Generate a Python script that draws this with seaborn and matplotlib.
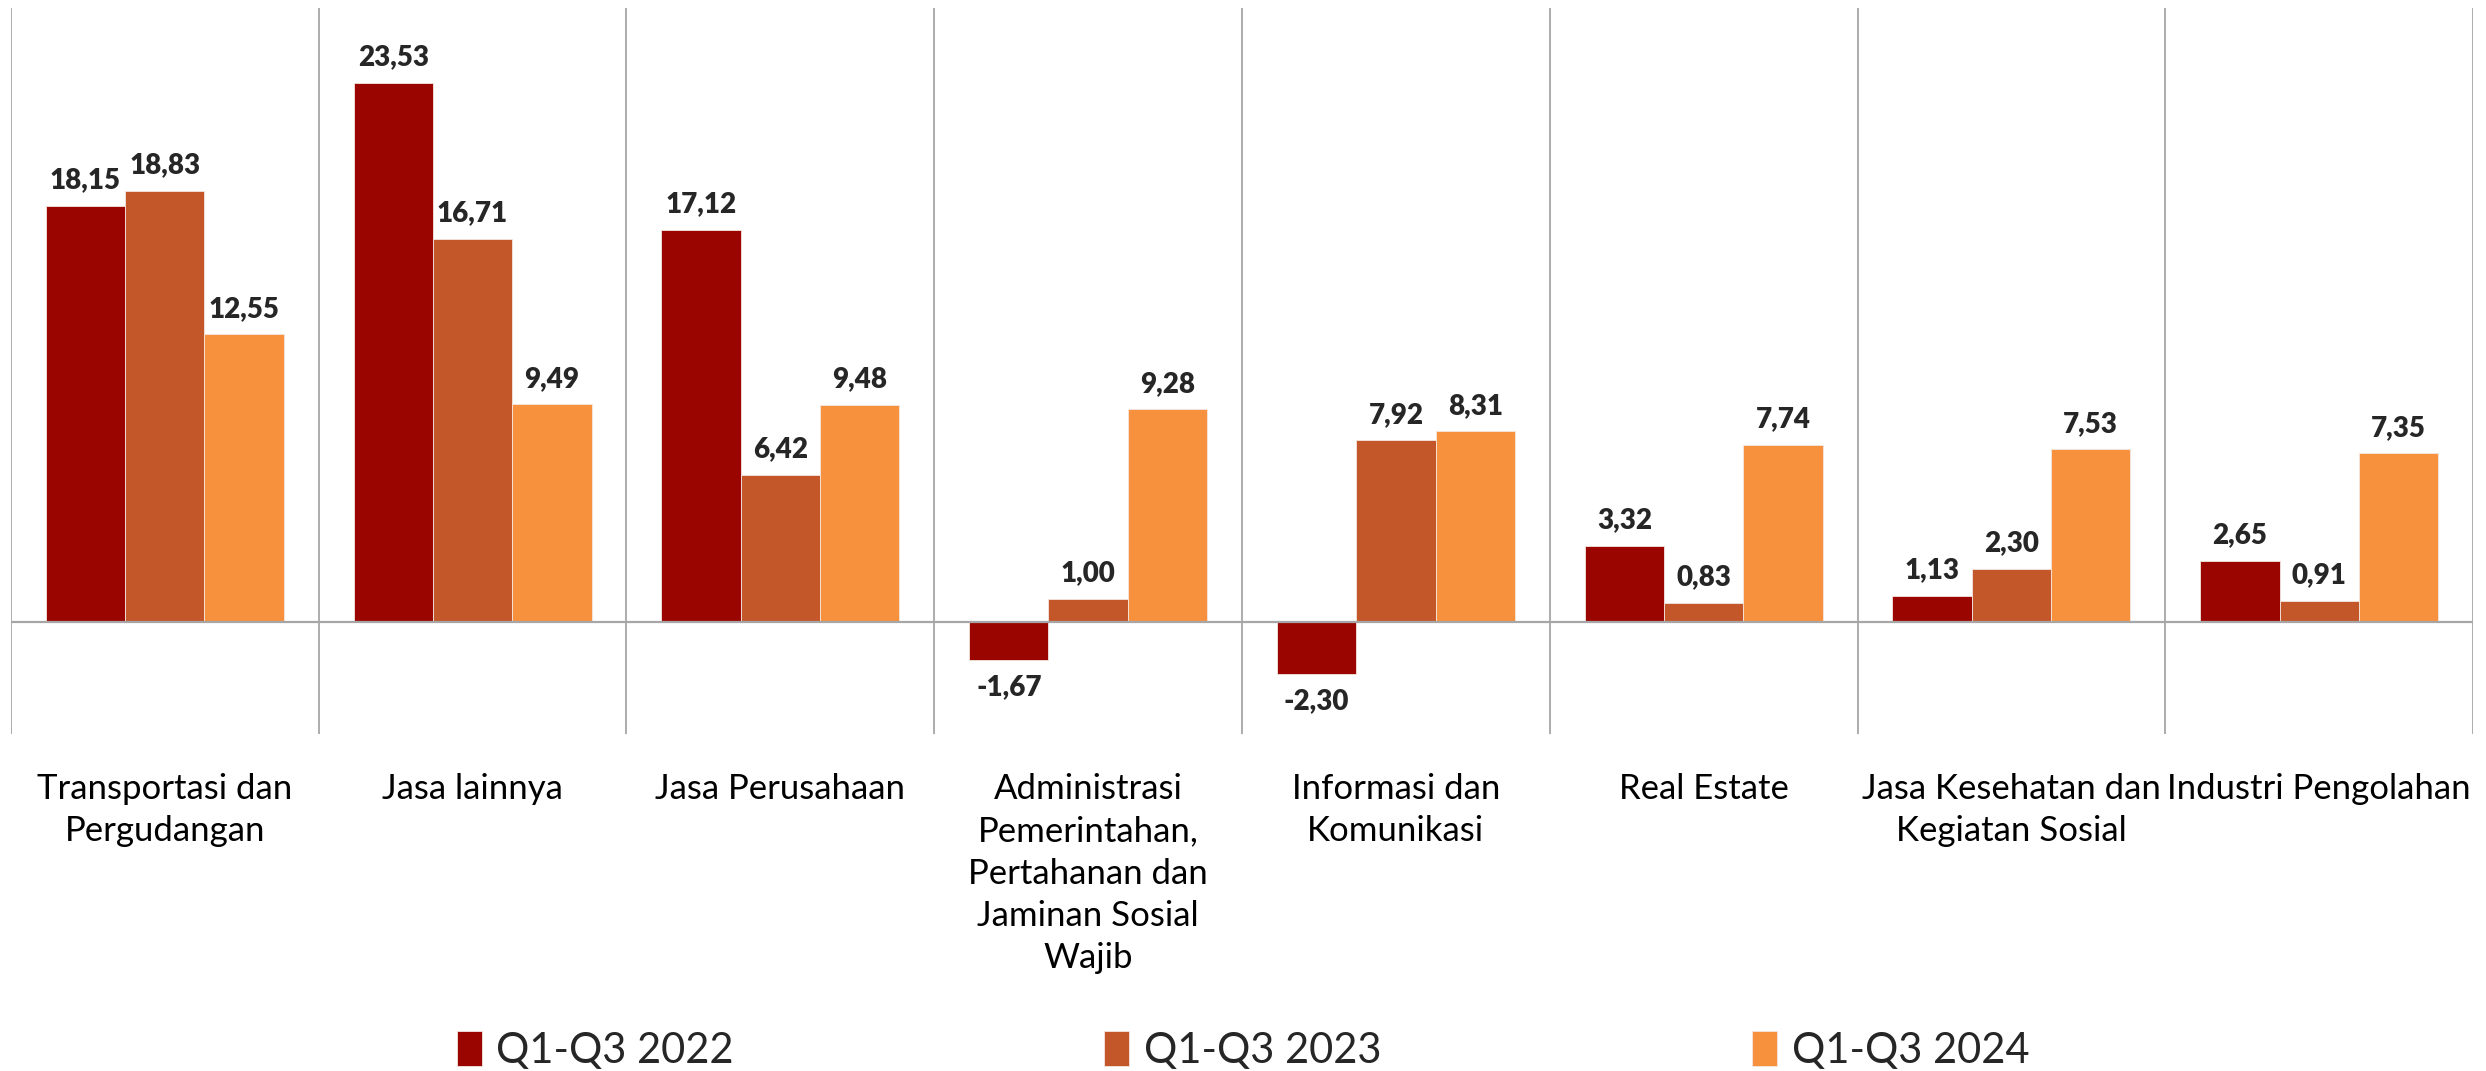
import numpy as np
import pandas as pd
import matplotlib
matplotlib.use("Agg")
import matplotlib.pyplot as plt
import seaborn as sns

# Chart data
categories = [
    "Transportasi dan\nPergudangan",
    "Jasa lainnya",
    "Jasa Perusahaan",
    "Administrasi\nPemerintahan,\nPertahanan dan\nJaminan Sosial\nWajib",
    "Informasi dan\nKomunikasi",
    "Real Estate",
    "Jasa Kesehatan dan\nKegiatan Sosial",
    "Industri Pengolahan",
]
series_names = ["Q1-Q3 2022", "Q1-Q3 2023", "Q1-Q3 2024"]
values_2022 = [18.15, 23.53, 17.12, -1.67, -2.30, 3.32, 1.13, 2.65]
values_2023 = [18.83, 16.71, 6.42, 1.00, 7.92, 0.83, 2.30, 0.91]
values_2024 = [12.55, 9.49, 9.48, 9.28, 8.31, 7.74, 7.53, 7.35]
colors = ["#9B0500", "#C4572A", "#F8913D"]

sns.set_theme(style="white")
plt.rcParams['font.family'] = ['Lato', 'DejaVu Sans']

# long format for seaborn
df = pd.DataFrame({
    "kategori": categories * 3,
    "periode": np.repeat(series_names, len(categories)),
    "nilai": values_2022 + values_2023 + values_2024,
})

fig = plt.figure(figsize=(24.86, 10.71), dpi=100)
ax = fig.add_axes([0.0044, 0.3147, 0.9904, 0.6778])

sns.barplot(data=df, x="kategori", y="nilai", hue="periode", palette=colors,
            saturation=1, width=0.773, gap=0, edgecolor="#F4E6E0", linewidth=0.6,
            ax=ax, legend=True)

ax.set_xlim(-0.5, len(categories) - 0.5)
ax.set_ylim(-4.9, 26.8)

# separators and zero line
for i in range(len(categories) + 1):
    ax.axvline(i - 0.5, color="#A6A6A6", lw=1.3, zorder=0)
ax.axhline(0, color="#A6A6A6", lw=1.6, zorder=3)

for s in ax.spines.values():
    s.set_visible(False)
ax.set_yticks([])
ax.set_xlabel("")
ax.set_ylabel("")
ax.tick_params(axis="x", length=0, pad=28, labelsize=25, labelcolor="black")
for t in ax.get_xticklabels():
    t.set_linespacing(1.4)
    t.set_verticalalignment("top")

# data labels
for cont in ax.containers:
    for bar in cont:
        v = bar.get_height()
        x = bar.get_x() + bar.get_width() / 2
        txt = f"{v:.2f}".replace(".", ",")
        if v >= 0:
            ax.annotate(txt, (x, v), xytext=(0, 9), textcoords="offset points",
                        ha="center", va="bottom", fontsize=20, fontweight="heavy")
        else:
            ax.annotate(txt, (x, v), xytext=(0, -10), textcoords="offset points",
                        ha="center", va="top", fontsize=20, fontweight="heavy")

handles, labels = ax.get_legend_handles_labels()
ax.get_legend().remove()
fig.legend(handles, labels, loc="center", bbox_to_anchor=(0.5, 0.019), ncol=3,
           frameon=False, fontsize=30, handlelength=0.6, handleheight=0.9,
           handletextpad=0.35, columnspacing=8.9)

fig.savefig("out.png", dpi=100)
